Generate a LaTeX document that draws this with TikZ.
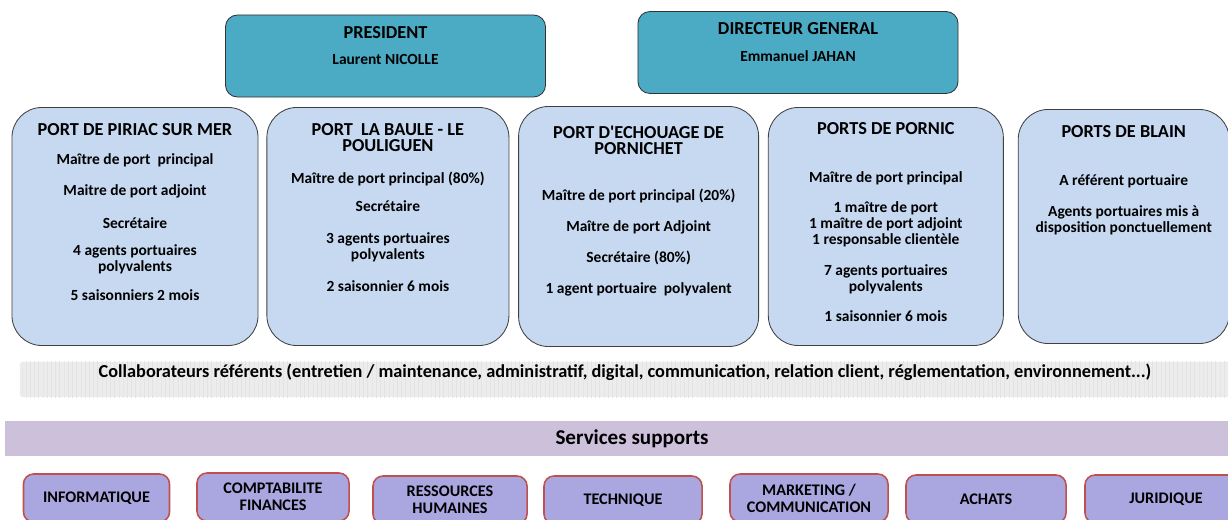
\documentclass[tikz,border=0pt]{standalone}
\usepackage{fontspec}
\setmainfont{Carlito}
\usetikzlibrary{positioning,patterns}
\definecolor{headblue}{RGB}{75,171,196}
\definecolor{portblue}{RGB}{198,217,241}
\definecolor{bandgray}{RGB}{236,236,236}
\definecolor{bandpurple}{RGB}{204,192,218}
\definecolor{servicefill}{RGB}{170,166,224}
\definecolor{servicered}{RGB}{192,80,77}
\newcommand{\titlefont}{\fontsize{13}{12}\selectfont}

\begin{document}
\begin{tikzpicture}[
    x=0.025cm, y=-0.025cm,
    head/.style={rectangle, draw=black!80, fill=headblue, line width=0.6pt, rounded corners=0.3cm, minimum width=8cm, minimum height=2.05cm},
    headtext/.style={font=\fontsize{11}{12}\selectfont\bfseries, align=center, inner sep=0pt},
    port/.style={rectangle, draw=black!75, fill=portblue, line width=0.6pt, rounded corners=0.75cm, minimum height=5.95cm},
    porttext/.style={font=\fontsize{11}{11.3}\selectfont\bfseries, align=center, inner sep=0pt},
    band/.style={rectangle, minimum height=0.875cm, inner sep=0pt},
    service/.style={rectangle, draw=servicered, fill=servicefill, line width=1.1pt, rounded corners=0.25cm, minimum width=3.9cm, minimum height=1.2cm, align=center, font=\fontsize{11.5}{12}\selectfont\bfseries}
]
    \useasboundingbox (0,0) rectangle (1228,519);
    \clip (0,0) rectangle (1228,519);

    % Direction
    \node[head] (president) at (385.5,56) {};
    \node[headtext, below=0.28cm of president.north] (presidenttxt) {\titlefont PRESIDENT\\[0.25cm]Laurent NICOLLE};
    \node[head] (dg) at (798,52.5) {};
    \node[headtext, below=0.27cm of dg.north] (dgtxt) {\titlefont DIRECTEUR GENERAL\\[0.25cm]Emmanuel JAHAN};

    % Ports
    \node[port, minimum width=6.15cm] (piriac) at (135,226.5) {};
    \node[port, minimum width=6.05cm, right=0.2cm of piriac] (baule) {};
    \node[port, minimum width=6.0cm, minimum height=6.0cm, right=0.22cm of baule] (pornichet) {};
    \node[port, minimum width=5.875cm, right=0.22cm of pornichet] (pornic) {};
    \node[port, minimum width=5.275cm, minimum height=5.85cm, right=0.35cm of pornic] (blain) {};

    \node[porttext, below=0.4cm of piriac.north] (piriactxt) {\titlefont PORT DE PIRIAC SUR MER\\[0.33cm]
        Maître de port~~principal\\[0.375cm]
        Maitre de port adjoint\\[0.42cm]
        Secrétaire\\[0.3cm]
        4 agents portuaires\\polyvalents\\[0.33cm]
        5 saisonniers 2 mois};
    \node[porttext, below=0.4cm of baule.north] (bauletxt) {\titlefont PORT~~LA BAULE - LE\\\titlefont POULIGUEN\\[0.42cm]
        Maître de port principal (80\%)\\[0.28cm]
        Secrétaire\\[0.42cm]
        3 agents portuaires\\polyvalents\\[0.4cm]
        2 saisonnier 6 mois};
    \node[porttext, below=0.5cm of pornichet.north] (pornichettxt) {\titlefont PORT D\textquotesingle ECHOUAGE DE\\\titlefont PORNICHET\\[0.75cm]
        Maître de port principal (20\%)\\[0.375cm]
        Maître de port Adjoint\\[0.375cm]
        Secrétaire (80\%)\\[0.375cm]
        1 agent portuaire~~polyvalent};
    \node[porttext, below=0.39cm of pornic.north] (pornictxt) {\titlefont PORTS DE PORNIC\\[0.8cm]
        Maître de port principal\\[0.35cm]
        1 maître de port\\1 maître de port adjoint\\1 responsable clientèle\\[0.375cm]
        7 agents portuaires\\polyvalents\\[0.35cm]
        1 saisonnier 6 mois};
    \node[porttext, below=0.41cm of blain.north] (blaintxt) {\titlefont PORTS DE BLAIN\\[0.8cm]
        A référent portuaire\\[0.375cm]
        Agents portuaires mis à\\disposition ponctuellement};

    % Collaborateurs
    \node[band, fill=bandgray, minimum width=30.25cm, rounded corners=2pt] (collab) at (625,379.5) {};
    \path[pattern=vertical lines, pattern color=gray!22] (collab.south west) rectangle (collab.north east);
    \node[font=\fontsize{13}{15}\selectfont\bfseries, inner sep=0pt] (collabtxt) at (625,372) {Collaborateurs référents (entretien / maintenance, administratif, digital, communication, relation client, réglementation, environnement...)};

    % Services supports
    \node[band, fill=bandpurple, minimum width=31.35cm, font=\fontsize{15}{17}\selectfont\bfseries] (supports) at (632,438.5) {Services supports};

    \node[service, minimum width=3.65cm] (info) at (96.5,498) {INFORMATIQUE};
    \node[service, minimum width=3.8cm] (compta) at (273,497) {COMPTABILITE\\FINANCES};
    \node[service, minimum width=3.85cm] (rh) at (450,500) {RESSOURCES\\HUMAINES};
    \node[service, minimum width=3.95cm] (tech) at (623,500) {TECHNIQUE};
    \node[service, minimum width=3.95cm] (marketing) at (809,498) {MARKETING /\\COMMUNICATION};
    \node[service, minimum width=4.0cm] (achats) at (986,499) {ACHATS};
    \node[service, minimum width=4.05cm] (juridique) at (1166,499) {JURIDIQUE};
\end{tikzpicture}
\end{document}
